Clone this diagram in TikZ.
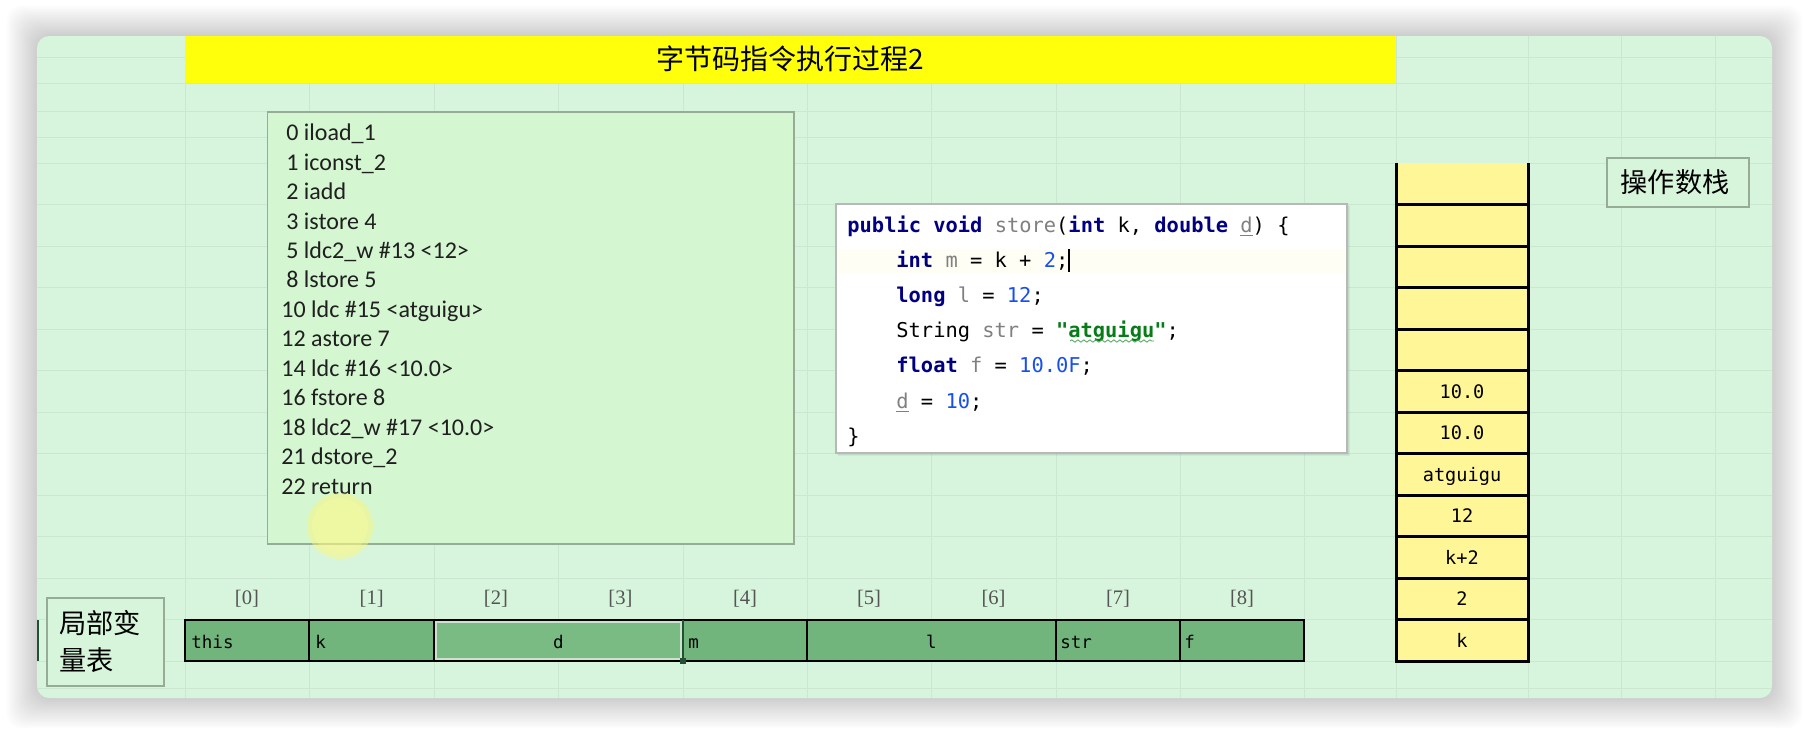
\documentclass[tikz,border=0pt]{standalone}
\usepackage{fontspec}
\setmainfont{Carlito}
\newfontfamily\cjk{Noto Sans CJK SC}
\newfontfamily\codefont{DejaVu Sans Mono}
\newfontfamily\idxfont{Liberation Serif}
\usetikzlibrary{decorations.pathmorphing}
\definecolor{panelbg}{RGB}{215,245,221}
\definecolor{gridc}{RGB}{203,231,209}
\definecolor{bcfill}{RGB}{212,246,209}
\definecolor{boxline}{RGB}{150,172,150}
\definecolor{titley}{RGB}{255,255,12}
\definecolor{stackc}{RGB}{255,246,152}
\definecolor{lvgreen}{RGB}{113,181,124}
\definecolor{lvsel}{RGB}{121,187,131}
\definecolor{selline}{RGB}{205,226,206}
\definecolor{seldark}{RGB}{33,80,52}
\definecolor{kw}{RGB}{0,0,128}
\definecolor{numc}{RGB}{23,80,235}
\definecolor{strc}{RGB}{6,125,23}
\definecolor{gr}{RGB}{128,128,128}
\definecolor{idxc}{RGB}{85,85,85}
\definecolor{linehl}{RGB}{254,254,244}
\begin{document}
\begin{tikzpicture}[x=0.5pt,y=-0.5pt,
  gridline/.style={draw=gridc,line width=0.5pt},
  bctext/.style={font=\fontsize{12}{14}\selectfont,text=black!88,inner sep=0pt,anchor=base west},
  codetext/.style={font=\codefont\fontsize{10.2}{12}\selectfont,inner sep=0pt,anchor=base west},
  stacktext/.style={font=\codefont\fontsize{9.3}{11}\selectfont,inner sep=0pt,anchor=base},
  lvtext/.style={font=\codefont\fontsize{8.75}{10}\selectfont,inner sep=0pt,anchor=base west},
  idxtext/.style={font=\idxfont\fontsize{10.3}{12}\selectfont,text=idxc,inner sep=0pt},
  cjktext/.style={font=\cjk\fontsize{13.6}{16}\selectfont,inner sep=0pt},
  labelbox/.style={draw=boxline,line width=0.7pt,fill=panelbg!85!bcfill}
]
\useasboundingbox (0,0) rectangle (1808,734);
\fill[white] (0,0) rectangle (1808,734);
% shadow
\foreach \i in {1,...,16}{
  \fill[black,opacity=0.011,rounded corners=8pt] ({37-1.9*\i},{36-1.9*\i}) rectangle ({1772+1.9*\i},{698+1.9*\i});
}
% panel
\fill[panelbg,rounded corners=6pt] (37,36) rectangle (1772,698);
\begin{scope}
  \clip[rounded corners=6pt] (37,36) rectangle (1772,698);
  \foreach \c in {185,309.5,434,558,683,807,931,1056,1180,1304,1396,1528,1621,1715}
    \draw[gridline] (\c,36) -- (\c,698);
  \foreach \r in {57,83,111,137,163,204.5,246,287.5,329,370.5,412,453.5,495,536.5,578,619.5,661,688}
    \draw[gridline] (37,\r) -- (1772,\r);
\end{scope}
% title
\fill[titley] (185,36) rectangle (1396,83);
\node[font=\cjk\fontsize{14}{16}\selectfont,inner sep=0pt] (title) at (790.5,59) {字节码指令执行过程2};
% bytecode box
\draw[draw=boxline,line width=0.7pt,fill=bcfill] (267.5,112) rectangle (794,544);
\node[bctext] (b0) at (286,140.7) {0 iload\_1};
\node[bctext] (b1) at (286,170.1) {1 iconst\_2};
\node[bctext] (b2) at (286,199.6) {2 iadd};
\node[bctext] (b3) at (286,229.0) {3 istore 4};
\node[bctext] (b4) at (286,258.5) {5 ldc2\_w \#13 <12>};
\node[bctext] (b5) at (286,287.9) {8 lstore 5};
\node[bctext] (b6) at (281,317.3) {10 ldc \#15 <atguigu>};
\node[bctext] (b7) at (281,346.8) {12 astore 7};
\node[bctext] (b8) at (281,376.2) {14 ldc \#16 <10.0>};
\node[bctext] (b9) at (281,405.7) {16 fstore 8};
\node[bctext] (b10) at (281,435.1) {18 ldc2\_w \#17 <10.0>};
\node[bctext] (b11) at (281,464.5) {21 dstore\_2};
\node[bctext] (b12) at (281,494.0) {22 return};
% cursor highlight
\fill[yellow!55!white,opacity=0.45] (340,526) circle[radius=16.5pt];
\fill[yellow!40!white,opacity=0.3] (340,526) circle[radius=14pt];
% code box
\fill[black,opacity=0.05] (838,206) rectangle (1350,456);
\fill[black,opacity=0.05] (837,205) rectangle (1349,455);
\draw[draw=black!28,line width=0.6pt,fill=white] (836,204) rectangle (1347,453);
\fill[linehl] (838,249) rectangle (1345,274);
\node[codetext] (c1) at (847,232) {\textcolor{kw}{\bfseries public} \textcolor{kw}{\bfseries void} \textcolor{gr}{store}(\textcolor{kw}{\bfseries int} k, \textcolor{kw}{\bfseries double} \textcolor{gr}{\underline{d}}) \{};
\node[codetext] (c2) at (896,267) {\textcolor{kw}{\bfseries int} \textcolor{gr}{m} = k + \textcolor{numc}{2};};
\node[codetext] (c3) at (896,302) {\textcolor{kw}{\bfseries long} \textcolor{gr}{l} = \textcolor{numc}{12};};
\node[codetext] (c4) at (896,337.5) {String \textcolor{gr}{str} = \textcolor{strc}{\bfseries "atguigu"};};
\node[codetext] (c5) at (896,372.5) {\textcolor{kw}{\bfseries float} \textcolor{gr}{f} = \textcolor{numc}{10.0F};};
\node[codetext] (c6) at (896,408) {\textcolor{gr}{\underline{d}} = \textcolor{numc}{10};};
\node[codetext] (c7) at (847,443) {\}};
\coordinate (curtop) at (1069,249);
\coordinate (curbot) at (1069,272);
\draw[line width=1.1pt,black] (curtop) -- (curbot);
\coordinate (wav1) at (1070,341);
\coordinate (wav2) at (1154,341);
\draw[strc!70!white,line width=0.4pt,decorate,decoration={snake,amplitude=0.6pt,segment length=3pt}] (wav1) -- (wav2);
% operand stack
\fill[stackc] (1396,163) rectangle (1528,661);
\foreach \r in {204.5,246,287.5,329,370.5,412,453.5,495,536.5,578,619.5}
  \draw[line width=1.5pt] (1396,\r) -- (1528,\r);
\draw[line width=1.5pt,line join=miter] (1396,163) -- (1396,661) -- (1528,661) -- (1528,163);
\node[stacktext] (s5) at (1462,398.3) {10.0};
\node[stacktext] (s6) at (1462,439.8) {10.0};
\node[stacktext] (s7) at (1462,481.3) {atguigu};
\node[stacktext] (s8) at (1462,522.8) {12};
\node[stacktext] (s9) at (1462,564.3) {k+2};
\node[stacktext] (s10) at (1462,605.8) {2};
\node[stacktext] (s11) at (1462,647.3) {k};
% operand stack label
\draw[labelbox] (1607,158) rectangle (1749,207);
\node[cjktext] (opstack) at (1675,182) {操作数栈};
% local variable table label
\draw[labelbox] (47,598) rectangle (164,686);
\node[cjktext,anchor=west] (lvt1) at (59,623) {局部变};
\node[cjktext,anchor=west] (lvt2) at (59,660) {量表};
\draw[seldark,line width=1pt] (38,620) -- (38,661);
% local variable table
\foreach \a/\b in {185/309,309/434,434/683,683/807,807/1056,1056/1180,1180/1304}
  \draw[fill=lvgreen,line width=1pt] (\a,619.5) rectangle (\b,661);
\draw[fill=lvsel,draw=selline,line width=1pt] (436,621.5) rectangle (681,659);
\draw[seldark,line width=1.3pt] (683,619.5) -- (683,661);
\fill[seldark] (680,658) rectangle (686,664);
\node[lvtext] (lv0) at (191,648) {this};
\node[lvtext] (lv1) at (315,648) {k};
\node[lvtext,anchor=base] (lv2) at (558.5,648) {d};
\node[lvtext] (lv4) at (688,648) {m};
\node[lvtext,anchor=base] (lv5) at (931.5,648) {l};
\node[lvtext] (lv7) at (1060,648) {str};
\node[lvtext] (lv8) at (1184,648) {f};
% indices
\node[idxtext] (i0) at (247,599) {[0]};
\node[idxtext] (i1) at (371.75,599) {[1]};
\node[idxtext] (i2) at (496,599) {[2]};
\node[idxtext] (i3) at (620.5,599) {[3]};
\node[idxtext] (i4) at (745,599) {[4]};
\node[idxtext] (i5) at (869,599) {[5]};
\node[idxtext] (i6) at (993.5,599) {[6]};
\node[idxtext] (i7) at (1118,599) {[7]};
\node[idxtext] (i8) at (1242,599) {[8]};
\end{tikzpicture}
\end{document}
